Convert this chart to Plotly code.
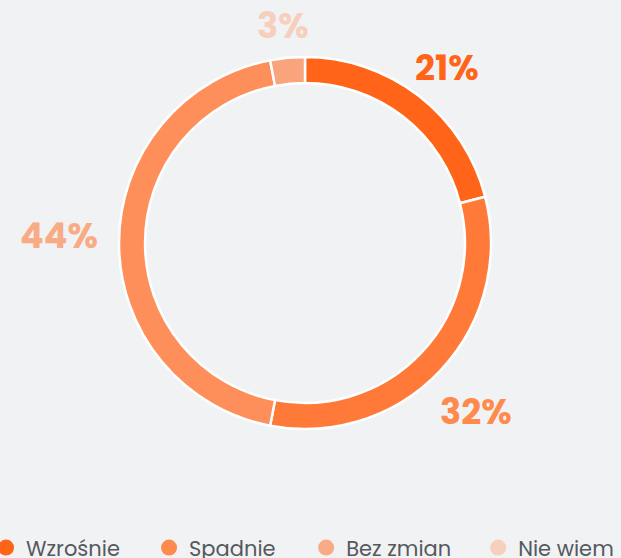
import math

import plotly.graph_objects as go

labels = ["Wzrośnie", "Spadnie", "Bez zmian", "Nie wiem"]
values = [21, 32, 44, 3]
slice_colors = ["#ff6418", "#ff7a38", "#ff8f5a", "#f9a47c"]
label_colors = ["#ff6418", "#ff8a4e", "#f9ab85", "#f6d0bc"]
legend_x = [-0.0225, 0.24, 0.493, 0.77]
# small pixel nudges for the percentage labels (dx, dy; dy pointing down)
label_nudge = [(0, 8), (0, 8), (-10, -8), (-2, -3)]

W, H = 621, 558
cx, cy, r_out = 305, 243, 186  # px
FONT = "Poppins, Inter, sans-serif"

fig = go.Figure()
fig.add_trace(go.Pie(
    labels=labels,
    values=values,
    hole=0.86,
    sort=False,
    direction="clockwise",
    rotation=0,
    marker=dict(colors=slice_colors, line=dict(color="white", width=2.5)),
    textinfo="none",
    hoverinfo="label+percent",
    showlegend=False,
    domain=dict(x=[(cx - r_out) / W, (cx + r_out) / W],
                y=[(H - cy - r_out) / H, (H - cy + r_out) / H]),
))

# one legend per entry so the spacing can follow the original
legend_layout = {}
for i, (name, col, lx) in enumerate(zip(labels, label_colors, legend_x)):
    key = "legend" if i == 0 else f"legend{i + 1}"
    fig.add_trace(go.Scatter(x=[None], y=[None], mode="markers", name=name, legend=key,
                             marker=dict(color=col, size=16, symbol="circle")))
    legend_layout[key] = dict(orientation="h", x=lx, y=0.018, xanchor="left", yanchor="middle",
                              font=dict(size=21, color="#55595e", family=FONT),
                              bgcolor="rgba(0,0,0,0)")

# percentage labels around the ring
total = sum(values)
acc = 0
for v, col, (ndx, ndy) in zip(values, label_colors, label_nudge):
    mid = (acc + v / 2) / total * 2 * math.pi
    acc += v
    s, c = math.sin(mid), math.cos(mid)
    txt = f"{v}%"
    hw = 12 * len(txt)
    r_c = 200 + hw * abs(s) + 13 * abs(c)
    fig.add_annotation(
        x=(cx + r_c * s + ndx) / W, y=(H - cy + r_c * c - ndy) / H,
        xref="paper", yref="paper", xanchor="center", yanchor="middle",
        text=f"<b>{txt}</b>", showarrow=False,
        font=dict(size=35, color=col, family=FONT),
    )

fig.update_layout(
    width=W, height=H,
    paper_bgcolor="#f1f2f4",
    plot_bgcolor="#f1f2f4",
    margin=dict(l=0, r=0, t=0, b=0, autoexpand=False),
    xaxis=dict(visible=False),
    yaxis=dict(visible=False),
    font=dict(family=FONT, color="#55595e"),
    **legend_layout,
)

fig.write_html("out.html", config={"displayModeBar": False},
               post_script="document.body.style.margin='0';")
